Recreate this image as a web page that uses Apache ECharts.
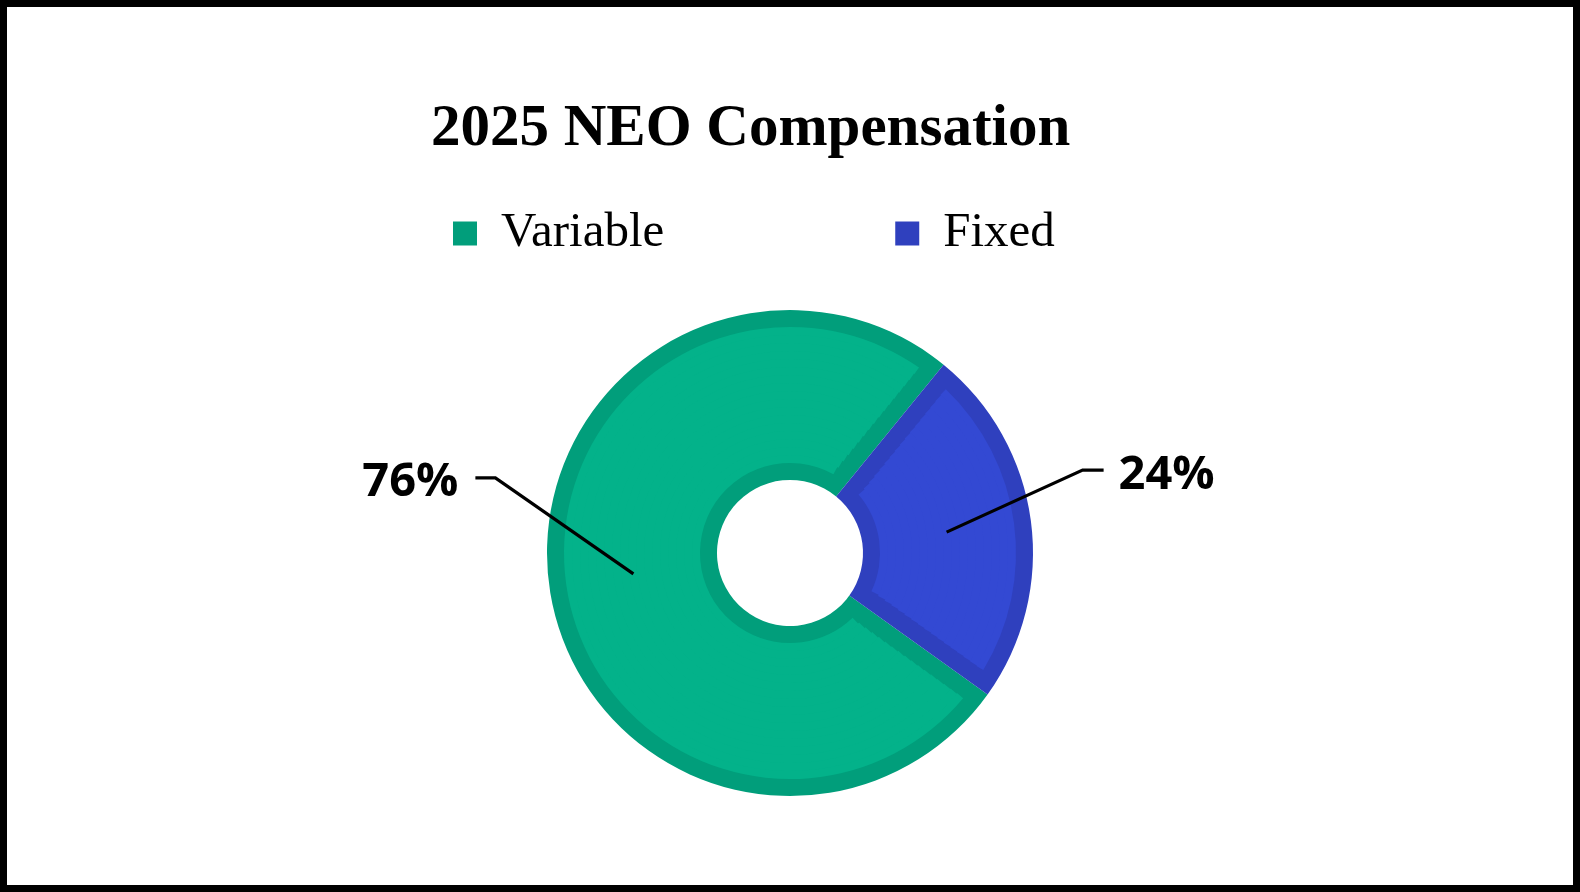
<!DOCTYPE html>
<html><head><meta charset="utf-8">
<script src="https://cdn.jsdelivr.net/npm/echarts@6/dist/echarts.min.js"></script>
<style>
html,body{margin:0;padding:0;background:#fff}
#chart{width:1580px;height:892px}
#frame{position:absolute;left:0;top:0;width:1580px;height:892px;border:7px solid #000;box-sizing:border-box;pointer-events:none}
</style>
</head><body>
<div id="chart"></div><div id="frame"></div>
<script>
// ---- data ----
const categories = ['Variable', 'Fixed'];
const values = [76, 24];
const titleText = '2025 NEO Compensation';

// ---- style ----
const fillColors = ['#03B28A', '#3349D3'];
const edgeColors = ['#019E7B', '#2F40BE'];
const CENTER = [790, 553];
const R_OUT = 243, R_IN = 73, BAND = 17;
const START = -35.6;
const RING_STEP = 8;
const LABEL_GEO = [
  { d1: [-138, -96], d2: -20, gap: -17, align: 'right', dy: 5 },
  { d1: [136, -62], d2: 21, gap: 15, align: 'left', dy: 6 }
];

const chart = echarts.init(document.getElementById('chart'));

function mk(colors) {
  return categories.map((c, i) => ({ name: c, value: values[i], itemStyle: { color: colors[i] } }));
}

const series = [{
  type: 'pie', center: CENTER, radius: [R_IN, R_OUT], startAngle: START, clockwise: true,
  silent: true, label: { show: false }, labelLine: { show: false },
  emphasis: { disabled: true }, data: mk(edgeColors), z: 2
}];

// lighter fill inset from every edge of each slice (drawn as thin concentric rings)
const innerFrom = R_IN + BAND, innerTo = R_OUT - BAND;
for (let a = innerFrom; a < innerTo; a += RING_STEP) {
  const b = Math.min(a + RING_STEP, innerTo);
  const mid = (a + b) / 2;
  const padDeg = (2 * BAND / mid) * 180 / Math.PI;
  series.push({
    type: 'pie', center: CENTER, radius: [a, Math.min(b + 1, innerTo)], startAngle: START, clockwise: true,
    padAngle: padDeg, silent: true, label: { show: false }, labelLine: { show: false },
    emphasis: { disabled: true }, data: mk(fillColors), z: 3
  });
}

series.push({
  type: 'pie', center: CENTER, radius: [0, 158], startAngle: START, clockwise: true,
  silent: true, emphasis: { disabled: true }, percentPrecision: 0, z: 10,
  itemStyle: { color: 'rgba(0,0,0,0)' },
  data: categories.map((c, i) => ({ name: c, value: values[i] })),
  label: {
    show: true, position: 'outside', formatter: '{d}%',
    fontFamily: 'Open Sans', fontWeight: 'bold', fontSize: 47, color: '#000'
  },
  labelLine: { show: true, length: 20, length2: 20, lineStyle: { color: '#000', width: 3.2 } },
  labelLayout: function (p) {
    const g = LABEL_GEO[p.dataIndex];
    const s = p.labelLinePoints[0];
    const elbow = [s[0] + g.d1[0], s[1] + g.d1[1]];
    const end = [elbow[0] + g.d2, elbow[1]];
    return {
      x: end[0] + g.gap, y: end[1] + g.dy, align: g.align, verticalAlign: 'middle',
      labelLinePoints: [s, elbow, end]
    };
  }
});

const option = {
  animation: false,
  backgroundColor: '#fff',
  title: {
    text: titleText, left: 426, top: 95,
    textStyle: { fontFamily: 'Liberation Serif', fontWeight: 'bold', fontSize: 59, color: '#000' }
  },
  legend: {
    left: 448, top: 204, itemWidth: 24, itemHeight: 24, itemGap: 231, icon: 'rect',
    selectedMode: false,
    data: categories.map((c, i) => ({ name: c, itemStyle: { color: edgeColors[i] } })),
    textStyle: { fontFamily: 'Liberation Serif', fontSize: 49, color: '#000', padding: [0, 0, 0, 19] }
  },
  series: series
};
chart.setOption(option);
</script>
</body></html>
